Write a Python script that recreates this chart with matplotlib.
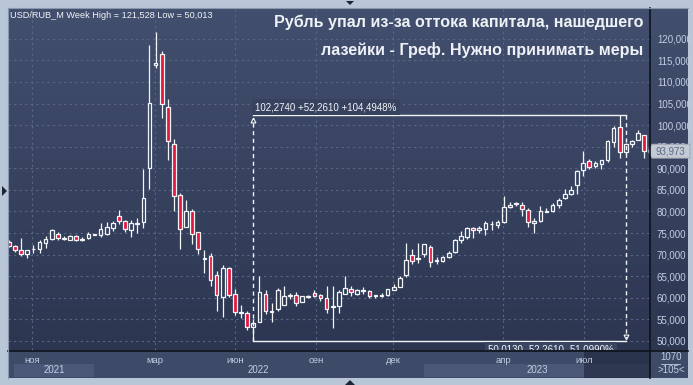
import numpy as np
import matplotlib
matplotlib.use('Agg')
import matplotlib.pyplot as plt
from matplotlib.patches import Rectangle, Polygon
from matplotlib.lines import Line2D
from matplotlib.colors import LinearSegmentedColormap
from matplotlib.transforms import blended_transform_factory

plt.rcParams['font.family'] = ['Liberation Sans', 'DejaVu Sans']

W, H = 693, 385

# weekly USD/RUB candles
opens = [73.0, 72.0, 71.0, 70.2, 71.2, 71.2, 72.6, 73.6, 74.7, 73.7,
         73.5, 74.3, 73.5, 73.8, 74.6, 74.5, 74.9, 76.1, 78.9, 77.8,
         75.8, 77.2, 77.5, 90.0, 114.0, 116.5, 104.1, 95.6, 83.8, 76.5,
         80.1, 75.2, 69.1, 69.6, 65.2, 60.1, 66.9, 60.8, 56.5, 56.4,
         53.3, 54.5, 61.0, 56.8, 57.3, 58.4, 60.4, 60.6, 59.1, 60.3,
         61.1, 60.6, 59.9, 57.9, 58.2, 61.0, 62.0, 61.0, 61.5, 61.5,
         60.4, 60.5, 60.6, 61.9, 62.6, 65.2, 69.9, 69.0, 70.2, 71.7,
         68.5, 68.6, 69.4, 70.7, 73.4, 74.2, 76.1, 75.6, 75.9, 77.0,
         76.8, 77.5, 81.0, 81.8, 81.6, 80.3, 77.3, 77.7, 79.9, 80.0,
         81.4, 83.1, 84.0, 86.1, 89.6, 91.6, 90.5, 91.0, 91.9, 96.0,
         99.6, 93.8, 95.6, 96.6, 97.7]
highs = [73.3, 72.2, 73.8, 71.0, 72.2, 73.4, 74.3, 76.0, 75.2, 74.4,
         74.6, 74.6, 74.0, 75.3, 74.8, 77.3, 77.6, 77.8, 80.4, 78.1,
         78.0, 78.6, 89.8, 118.6, 121.528, 117.2, 106.0, 96.9, 84.3, 82.7,
         80.5, 75.3, 71.1, 70.3, 66.1, 67.6, 67.2, 62.0, 58.3, 56.9,
         55.0, 65.1, 61.8, 58.7, 62.2, 62.7, 61.2, 61.4, 60.5, 60.7,
         61.8, 60.9, 62.7, 62.7, 61.9, 65.1, 62.7, 62.0, 62.4, 61.8,
         60.7, 61.1, 62.0, 63.1, 65.0, 72.6, 71.3, 72.8, 72.5, 72.2,
         69.5, 69.6, 70.9, 73.6, 75.5, 76.5, 76.4, 76.6, 77.9, 77.9,
         78.1, 83.6, 82.3, 82.2, 82.2, 80.8, 78.5, 81.3, 80.8, 81.9,
         83.2, 85.1, 85.9, 89.5, 94.1, 92.1, 91.6, 92.0, 96.5, 99.7,
         102.274, 95.8, 96.6, 98.9, 97.8]
lows = [71.8, 70.6, 69.7, 69.2, 70.5, 70.5, 71.5, 73.3, 73.4, 73.4,
        73.3, 73.2, 73.2, 73.6, 74.5, 74.2, 74.5, 75.5, 77.0, 75.2,
        74.2, 75.0, 76.1, 85.1, 113.3, 101.7, 91.9, 80.2, 71.4, 76.4,
        72.5, 70.2, 65.8, 62.7, 57.0, 55.6, 60.1, 56.0, 55.4, 52.5,
        50.013, 54.3, 56.3, 54.5, 56.9, 58.3, 59.7, 58.2, 59.0, 59.9,
        60.3, 59.3, 56.6, 52.9, 56.6, 60.9, 60.4, 60.6, 61.0, 59.9,
        59.9, 60.1, 60.5, 61.8, 62.4, 64.9, 67.8, 68.0, 69.5, 67.1,
        67.8, 68.2, 69.3, 70.5, 72.8, 73.6, 73.9, 75.1, 74.6, 75.6,
        76.2, 77.4, 80.9, 81.2, 79.0, 76.3, 75.1, 77.6, 79.8, 79.8,
        80.7, 82.9, 83.9, 84.1, 88.2, 89.8, 90.0, 89.8, 91.4, 95.0,
        92.5, 93.0, 95.0, 96.5, 92.5]
closes = [72.0, 71.0, 70.2, 71.0, 71.3, 72.9, 73.6, 75.7, 73.8, 73.9,
          74.3, 73.5, 73.7, 74.7, 74.7, 75.9, 76.3, 77.3, 77.7, 75.9,
          77.4, 77.4, 83.1, 105.1, 114.3, 104.8, 96.3, 83.7, 75.9, 80.0,
          74.9, 71.2, 69.3, 64.1, 60.6, 66.9, 60.7, 56.8, 56.7, 53.3,
          54.1, 61.3, 57.0, 57.0, 61.7, 60.4, 60.6, 58.9, 60.4, 60.5,
          60.5, 59.9, 57.5, 58.1, 61.4, 62.2, 61.3, 61.7, 61.7, 60.4,
          60.6, 60.7, 62.0, 62.5, 64.5, 68.7, 68.6, 69.2, 72.4, 68.4,
          68.7, 69.4, 70.5, 73.4, 74.3, 76.2, 75.6, 76.2, 77.3, 77.2,
          77.6, 81.1, 81.6, 82.0, 80.6, 77.5, 77.8, 80.1, 80.1, 81.5,
          82.7, 84.0, 85.0, 89.4, 91.2, 90.4, 91.3, 91.9, 96.3, 99.3,
          93.8, 95.6, 96.3, 98.1, 93.973]

month_labels = ['ноя', 'мар', 'июн', 'сен', 'дек', 'апр', 'июл']
month_pos = [3.8, 23.9, 37.0, 50.3, 62.9, 80.9, 94.1]
years = ['2021', '2022', '2023']
year_spans = [(0.8, 13.9), (13.9, 67.9), (67.9, 104.95)]
price_ticks = np.arange(50, 121, 5)

meas_i0, meas_i1 = 40, 101
meas_low, meas_high = 50.013, 102.274
meas_top_label = '102,2740 +52,2610 +104,4948%'
meas_bot_label = '50,0130 -52,2610 -51,0990%'
last_price = 93.973

header = 'USD/RUB_M Week High = 121,528 Low = 50,013'
title1 = 'Рубль упал из-за оттока капитала, нашедшего'
title2 = 'лазейки - Греф. Нужно принимать меры'


def fx(x):
    return x / W


def fy(y):
    return 1 - y / H


def box(x0, y0, x1, y1):
    return [fx(x0), fy(y1), (x1 - x0) / W, (y1 - y0) / H]


fig = plt.figure(figsize=(W / 100, H / 100), dpi=100, facecolor='#b9c6d7')

XLIM = (-0.16, 104.95)
YLIM = (47.915, 127.137)
RED = '#e5173f'
WHITE = '#f2f4f8'
TXT = '#c3cee2'

cmap = LinearSegmentedColormap.from_list('bg', ['#424f6e', '#2c3651'])
grad = np.linspace(0, 1, 256).reshape(-1, 1)

# right price panel
rax = fig.add_axes(box(650, 8, 688, 350), zorder=0)
rax.imshow(grad, cmap=cmap, aspect='auto', extent=[0, 1, 0, 1], transform=rax.transAxes)
rax.set_axis_off()

# main chart
ax = fig.add_axes(box(8, 8, 650, 350), zorder=1)
ax.imshow(grad, cmap=cmap, aspect='auto', extent=[0, 1, 0, 1], transform=ax.transAxes, zorder=0)
ax.set_facecolor('none')
for s in ax.spines.values():
    s.set_visible(False)

ax.set_xticks(month_pos)
ax.set_xticklabels([])
ax.set_yticks(price_ticks)
ax.set_yticklabels(['{:.3f}'.format(v).replace('.', ',') for v in price_ticks])
ax.yaxis.tick_right()
ax.tick_params(axis='x', length=0)
ax.tick_params(axis='y', length=0, pad=5, labelsize=7, labelcolor=TXT)
ax.grid(True, color='#5a6686', lw=0.8, ls=(0, (2, 3)))
ax.set_axisbelow(True)

n = len(opens)
idx = np.arange(n)
o = np.array(opens)
h = np.array(highs)
l = np.array(lows)
c = np.array(closes)
top = np.maximum(o, c)
bot = np.minimum(o, c)
ax.vlines(idx, top, h, color=WHITE, lw=0.9, zorder=3)
ax.vlines(idx, l, bot, color=WHITE, lw=0.9, zorder=3)
for i in range(n):
    fc = RED if c[i] < o[i] else 'none'
    ax.add_patch(Rectangle((i - 0.3, bot[i]), 0.6, max(top[i] - bot[i], 0.02),
                           fc=fc, ec=WHITE, lw=0.9, zorder=4))

# measurement tool
ax.plot([meas_i0, meas_i1], [meas_high, meas_high], color=WHITE, lw=1, zorder=5)
ax.plot([meas_i0, meas_i1], [meas_low, meas_low], color=WHITE, lw=1, zorder=5)
ax.plot([meas_i0, meas_i0], [meas_low, meas_high - 0.6], color=WHITE, lw=1,
        dashes=(3, 2.5), zorder=5)
ax.plot([meas_i1, meas_i1], [meas_high, meas_low + 0.6], color=WHITE, lw=1,
        dashes=(3, 2.5), zorder=5)
ax.plot([meas_i0], [meas_high - 1.0], marker='^', ms=3.5, mfc='none', mec=WHITE, mew=0.8, zorder=5)
ax.plot([meas_i1], [meas_low + 1.0], marker='v', ms=3.5, mfc='none', mec=WHITE, mew=0.8, zorder=5)
ax.annotate(meas_top_label, (meas_i0, meas_high), xytext=(2, 8), textcoords='offset pixels',
            ha='left', va='center', fontsize=7, color=WHITE, zorder=6,
            bbox=dict(boxstyle='square,pad=0.3', fc='#37425e', ec='none'))
ax.annotate(meas_bot_label, (meas_i1, meas_low), xytext=(-12, -9), textcoords='offset pixels',
            ha='right', va='center', fontsize=7, color=WHITE, zorder=6, clip_on=True,
            bbox=dict(boxstyle='square,pad=0.3', fc='#3a4562', ec='none'))

ax.set_xlim(XLIM)
ax.set_ylim(YLIM)

# last price marker
bt = blended_transform_factory(fig.transFigure, ax.transData)
hh = 7 / 4.317
ax.add_patch(Polygon([(fx(648), last_price), (fx(652), last_price + hh), (fx(690), last_price + hh),
                      (fx(690), last_price - hh), (fx(652), last_price - hh)], closed=True,
                     transform=bt, fc='#c4cad3', ec='#9aa3b2', lw=0.6, clip_on=False, zorder=10))
ax.text(fx(656), last_price, '{:.3f}'.format(last_price).replace('.', ','), transform=bt,
        ha='left', va='center', fontsize=7, color='#5a6c8a', clip_on=False, zorder=11)

# bottom time panel
bax = fig.add_axes(box(8, 350, 650, 378), zorder=0)
bax.set_facecolor('#3d4a68')
bax.set_xlim(XLIM)
bax.set_ylim(0, 1)
bax.set_xticks([])
bax.set_yticks([])
for s in bax.spines.values():
    s.set_visible(False)
for lab, p in zip(month_labels, month_pos):
    bax.text(p, 0.64, lab, ha='center', va='center', fontsize=6.8, color=TXT)
for k, (yr, (a, b)) in enumerate(zip(years, year_spans)):
    if k != 1:
        bax.add_patch(Rectangle((a, 0.04), b - a, 0.46, fc='#4a5777', ec='none'))
    bax.text((a + b) / 2, 0.27, yr, ha='center', va='center', fontsize=7, color=TXT)
bax.axvspan(94.2, XLIM[1], color='#1c2439', alpha=0.6, lw=0)

# corner box
cax = fig.add_axes(box(650, 350, 688, 378))
cax.set_facecolor('#3d4a68')
cax.set_xticks([])
cax.set_yticks([])
for s in cax.spines.values():
    s.set_visible(False)
cax.text(0.55, 0.75, '1070', ha='center', va='center', fontsize=7, color=TXT, transform=cax.transAxes)
cax.plot([0.3, 0.8], [0.5, 0.5], color=TXT, lw=0.6, transform=cax.transAxes)
cax.text(0.55, 0.27, '>105<', ha='center', va='center', fontsize=7, color=TXT, transform=cax.transAxes)

# separators
fig.add_artist(Line2D([fx(650), fx(650)], [fy(8), fy(378)], color='#0d121b', lw=1.2))
fig.add_artist(Line2D([fx(8), fx(688)], [fy(350.5), fy(350.5)], color='#0d121b', lw=1.2))
fig.add_artist(Line2D([fx(7.5), fx(7.5)], [fy(7.5), fy(378)], color='#8997ad', lw=0.8))
fig.add_artist(Line2D([fx(7.5), fx(688)], [fy(7.5), fy(7.5)], color='#8997ad', lw=0.8))

# small frame arrows
fig.add_artist(Polygon([(fx(2), fy(186)), (fx(2), fy(196)), (fx(7), fy(191))], closed=True,
                       fc='#1c2536', ec='none', transform=fig.transFigure))
fig.add_artist(Polygon([(fx(346), fy(1)), (fx(354), fy(1)), (fx(350), fy(5))], closed=True,
                       fc='#1c2536', ec='none', transform=fig.transFigure))
fig.add_artist(Polygon([(fx(345), fy(385)), (fx(355), fy(385)), (fx(350), fy(380))], closed=True,
                       fc='#1c2536', ec='none', transform=fig.transFigure))

# texts
fig.text(fx(10), fy(15), header, ha='left', va='center', fontsize=6.6, color=WHITE)
fig.text(fx(643), fy(22), title1, ha='right', va='center', fontsize=11.6, fontweight='bold',
         color='#eef1f6')
fig.text(fx(643), fy(50), title2, ha='right', va='center', fontsize=11.6, fontweight='bold',
         color='#eef1f6')

fig.savefig('out.png', dpi=100, facecolor=fig.get_facecolor())
